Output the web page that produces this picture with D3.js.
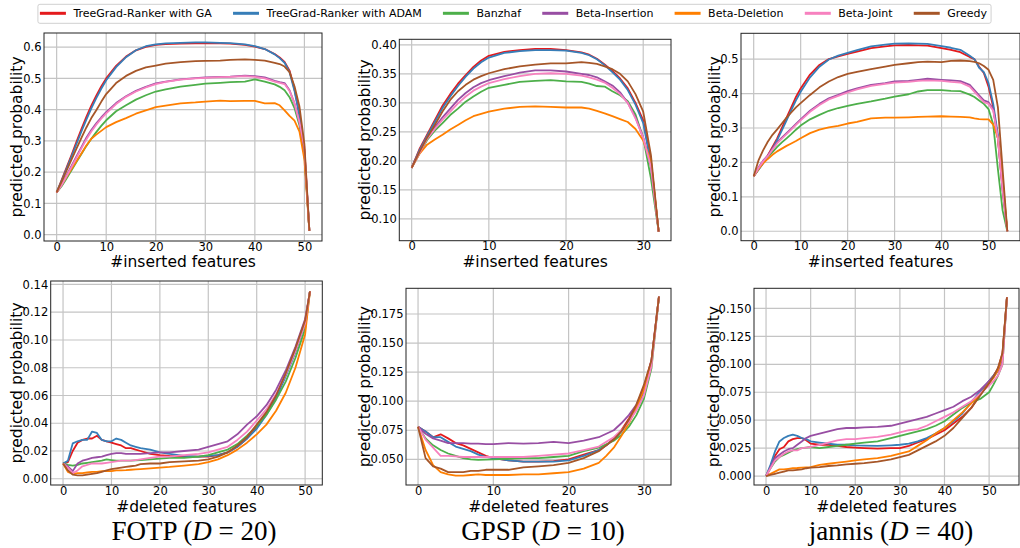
<!DOCTYPE html>
<html><head><meta charset="utf-8">
<script src="https://cdn.jsdelivr.net/npm/d3@7"></script>
<style>body{margin:0;background:#fff}svg{display:block}</style>
</head><body>
<script>
// ---------- data ----------
const seriesNames = ["TreeGrad-Ranker with GA","TreeGrad-Ranker with ADAM","Banzhaf","Beta-Insertion","Beta-Deletion","Beta-Joint","Greedy"];
const seriesColors = ["#e41a1c","#377eb8","#4daf4a","#984ea3","#ff7f00","#f781bf","#a65628"];
const datasetTitles = ["FOTP","GPSP","jannis"];
const datasetD = ["20","10","40"];

// FOTP insertion
const fotpInsX = [0,1,2,3,4,5,6,7,8,9,10,12,14,16,18,20,22,25,28,30,33,35,38,40,42,44,45,46,47,48,49,50,51];
const fotpInsGA   = [0.135,0.175,0.215,0.255,0.297,0.338,0.377,0.413,0.445,0.474,0.500,0.540,0.570,0.590,0.601,0.607,0.610,0.611,0.612,0.612,0.612,0.611,0.607,0.602,0.594,0.578,0.567,0.553,0.525,0.465,0.385,0.27,0.012];
const fotpInsADAM = [0.135,0.172,0.211,0.25,0.29,0.33,0.368,0.404,0.437,0.467,0.494,0.536,0.568,0.590,0.603,0.609,0.612,0.614,0.615,0.615,0.614,0.613,0.609,0.603,0.594,0.577,0.565,0.55,0.52,0.46,0.38,0.26,0.012];
const fotpInsBanz = [0.135,0.155,0.18,0.206,0.232,0.258,0.284,0.307,0.328,0.348,0.366,0.395,0.414,0.432,0.446,0.458,0.465,0.474,0.479,0.483,0.486,0.488,0.49,0.497,0.49,0.481,0.473,0.462,0.44,0.405,0.35,0.26,0.012];
const fotpInsBIns = [0.135,0.16,0.19,0.22,0.25,0.28,0.31,0.335,0.356,0.375,0.392,0.421,0.443,0.46,0.473,0.484,0.49,0.497,0.501,0.503,0.505,0.506,0.509,0.507,0.503,0.492,0.488,0.485,0.462,0.42,0.36,0.27,0.012];
const fotpInsBDel = [0.135,0.16,0.185,0.21,0.235,0.26,0.285,0.307,0.32,0.332,0.344,0.36,0.373,0.387,0.398,0.408,0.413,0.42,0.423,0.426,0.429,0.427,0.428,0.428,0.42,0.421,0.414,0.398,0.38,0.365,0.33,0.24,0.012];
const fotpInsBJnt = [0.135,0.158,0.187,0.216,0.246,0.276,0.305,0.33,0.352,0.371,0.388,0.418,0.441,0.458,0.471,0.482,0.489,0.496,0.5,0.502,0.504,0.505,0.507,0.505,0.5,0.49,0.486,0.482,0.46,0.42,0.36,0.28,0.012];
const fotpInsGrdy = [0.135,0.17,0.205,0.24,0.275,0.31,0.343,0.373,0.398,0.425,0.45,0.485,0.508,0.524,0.535,0.541,0.547,0.552,0.555,0.556,0.557,0.559,0.561,0.559,0.557,0.55,0.546,0.538,0.52,0.475,0.41,0.29,0.012];

// GPSP insertion
const gpspInsX = [0,1,2,3,4,5,6,7,8,9,10,12,14,16,18,20,22,23,24,25,26,27,28,29,30,31,32];
const gpspInsGA   = [0.188,0.22,0.245,0.27,0.295,0.315,0.333,0.348,0.362,0.373,0.381,0.388,0.391,0.393,0.393,0.391,0.387,0.383,0.376,0.366,0.355,0.342,0.325,0.3,0.27,0.2,0.078];
const gpspInsADAM = [0.188,0.218,0.243,0.267,0.291,0.311,0.329,0.345,0.359,0.37,0.378,0.386,0.389,0.391,0.391,0.39,0.386,0.382,0.375,0.365,0.353,0.34,0.322,0.297,0.265,0.195,0.078];
const gpspInsBanz = [0.188,0.212,0.236,0.252,0.265,0.279,0.29,0.302,0.311,0.319,0.326,0.331,0.336,0.338,0.339,0.337,0.336,0.333,0.329,0.328,0.32,0.313,0.303,0.28,0.24,0.17,0.078];
const gpspInsBIns = [0.188,0.215,0.24,0.258,0.275,0.29,0.305,0.317,0.327,0.334,0.339,0.346,0.352,0.356,0.356,0.354,0.35,0.348,0.344,0.337,0.33,0.318,0.30,0.275,0.24,0.19,0.078];
const gpspInsBDel = [0.188,0.212,0.228,0.237,0.245,0.254,0.262,0.27,0.277,0.281,0.285,0.29,0.293,0.294,0.293,0.292,0.292,0.29,0.286,0.282,0.277,0.272,0.267,0.255,0.235,0.2,0.078];
const gpspInsBJnt = [0.188,0.213,0.238,0.255,0.271,0.285,0.299,0.311,0.321,0.328,0.334,0.341,0.346,0.350,0.351,0.35,0.347,0.344,0.34,0.335,0.326,0.315,0.30,0.273,0.24,0.19,0.078];
const gpspInsGrdy = [0.188,0.215,0.24,0.262,0.285,0.305,0.32,0.331,0.34,0.346,0.351,0.358,0.363,0.366,0.368,0.368,0.37,0.369,0.367,0.363,0.358,0.35,0.337,0.315,0.285,0.21,0.078];

// jannis insertion
const jannisInsX = [0,1,2,3,4,5,6,7,8,9,10,12,14,16,18,20,22,25,28,30,33,35,37,40,42,44,46,47,48,49,50,51,52,53,54];
const jannisInsGA   = [0.16,0.18,0.2,0.22,0.245,0.27,0.3,0.33,0.36,0.39,0.415,0.455,0.483,0.5,0.508,0.515,0.522,0.532,0.537,0.54,0.541,0.54,0.539,0.532,0.527,0.52,0.506,0.5,0.478,0.46,0.42,0.36,0.27,0.12,0.0];
const jannisInsADAM = [0.16,0.178,0.197,0.217,0.24,0.265,0.293,0.322,0.352,0.38,0.405,0.447,0.478,0.499,0.51,0.518,0.526,0.537,0.542,0.545,0.546,0.545,0.544,0.538,0.533,0.527,0.51,0.5,0.475,0.462,0.43,0.37,0.28,0.14,0.0];
const jannisInsBanz = [0.16,0.18,0.2,0.215,0.23,0.245,0.258,0.27,0.282,0.295,0.307,0.325,0.338,0.35,0.358,0.364,0.37,0.377,0.385,0.391,0.398,0.406,0.41,0.41,0.408,0.407,0.397,0.39,0.38,0.37,0.355,0.31,0.18,0.06,0.0];
const jannisInsBIns = [0.16,0.185,0.205,0.22,0.24,0.258,0.272,0.285,0.298,0.312,0.325,0.35,0.37,0.386,0.396,0.407,0.415,0.425,0.43,0.435,0.437,0.44,0.443,0.44,0.438,0.436,0.425,0.41,0.395,0.38,0.375,0.355,0.27,0.12,0.0];
const jannisInsBDel = [0.16,0.18,0.197,0.21,0.222,0.232,0.24,0.248,0.255,0.262,0.27,0.285,0.295,0.302,0.306,0.313,0.318,0.328,0.33,0.33,0.331,0.332,0.333,0.334,0.333,0.332,0.331,0.328,0.326,0.325,0.325,0.31,0.27,0.15,0.0];
const jannisInsBJnt = [0.16,0.183,0.203,0.218,0.237,0.255,0.269,0.282,0.295,0.309,0.322,0.347,0.367,0.383,0.393,0.403,0.412,0.422,0.428,0.432,0.434,0.437,0.438,0.437,0.434,0.432,0.42,0.405,0.39,0.375,0.37,0.35,0.27,0.12,0.0];
const jannisInsGrdy = [0.16,0.205,0.235,0.26,0.28,0.296,0.313,0.33,0.345,0.36,0.372,0.396,0.418,0.435,0.448,0.457,0.463,0.471,0.478,0.483,0.488,0.491,0.493,0.491,0.495,0.496,0.494,0.492,0.488,0.48,0.469,0.44,0.36,0.18,0.0];

// FOTP deletion
const fotpDelX = [0,1,2,3,4,5,6,7,8,9,10,11,12,13,14,15,16,18,20,22,25,28,30,32,34,36,38,40,42,44,46,48,50,51];
const fotpDelGA   = [0.011,0.012,0.02,0.026,0.028,0.029,0.029,0.031,0.028,0.027,0.026,0.025,0.024,0.022,0.022,0.021,0.02,0.018,0.017,0.0165,0.016,0.016,0.016,0.017,0.019,0.023,0.029,0.037,0.047,0.059,0.075,0.092,0.113,0.135];
const fotpDelADAM = [0.011,0.013,0.0255,0.027,0.028,0.028,0.034,0.033,0.028,0.027,0.027,0.029,0.028,0.026,0.024,0.023,0.022,0.021,0.019,0.018,0.0165,0.016,0.0165,0.017,0.019,0.023,0.029,0.036,0.046,0.058,0.074,0.091,0.112,0.135];
const fotpDelBanz = [0.011,0.01,0.0095,0.01,0.011,0.0115,0.012,0.0125,0.013,0.014,0.0135,0.013,0.013,0.013,0.013,0.0133,0.0135,0.014,0.0145,0.015,0.015,0.016,0.017,0.019,0.021,0.025,0.031,0.038,0.046,0.057,0.07,0.087,0.108,0.135];
const fotpDelBIns = [0.011,0.009,0.0055,0.011,0.013,0.014,0.015,0.0155,0.016,0.017,0.018,0.0185,0.0185,0.018,0.018,0.018,0.018,0.0185,0.019,0.019,0.02,0.021,0.023,0.025,0.027,0.032,0.039,0.045,0.053,0.064,0.078,0.095,0.115,0.135];
const fotpDelBDel = [0.011,0.005,0.0035,0.004,0.004,0.0045,0.005,0.005,0.0055,0.0055,0.0055,0.006,0.006,0.0062,0.0065,0.0068,0.007,0.0075,0.008,0.0085,0.0095,0.0105,0.012,0.014,0.017,0.021,0.026,0.032,0.039,0.049,0.062,0.08,0.104,0.135];
const fotpDelBJnt = [0.011,0.008,0.004,0.006,0.009,0.01,0.011,0.011,0.011,0.0115,0.012,0.0125,0.013,0.013,0.013,0.0135,0.014,0.015,0.016,0.016,0.017,0.018,0.019,0.021,0.023,0.028,0.034,0.042,0.05,0.061,0.075,0.092,0.112,0.135];
const fotpDelGrdy = [0.011,0.006,0.003,0.0025,0.0025,0.003,0.0035,0.004,0.005,0.006,0.007,0.0075,0.008,0.0085,0.009,0.0095,0.0105,0.011,0.011,0.012,0.0125,0.013,0.014,0.016,0.019,0.024,0.03,0.039,0.048,0.06,0.076,0.094,0.114,0.135];

// GPSP deletion
const gpspDelX = [0,1,2,3,4,5,6,7,8,9,10,12,14,16,18,20,22,24,25,26,27,28,29,30,31,32];
const gpspDelGA   = [0.078,0.074,0.069,0.0715,0.068,0.064,0.062,0.059,0.056,0.053,0.051,0.049,0.048,0.048,0.0485,0.05,0.054,0.058,0.062,0.068,0.075,0.085,0.096,0.112,0.135,0.19];
const gpspDelADAM = [0.078,0.074,0.069,0.069,0.065,0.061,0.059,0.057,0.054,0.052,0.051,0.049,0.048,0.048,0.048,0.049,0.053,0.058,0.062,0.067,0.074,0.083,0.094,0.108,0.133,0.19];
const gpspDelBanz = [0.078,0.068,0.062,0.058,0.055,0.053,0.051,0.05,0.0495,0.0497,0.05,0.0505,0.051,0.051,0.052,0.053,0.057,0.06,0.063,0.066,0.071,0.078,0.088,0.102,0.128,0.19];
const gpspDelBIns = [0.078,0.072,0.068,0.066,0.064,0.064,0.064,0.0635,0.0635,0.063,0.063,0.064,0.0635,0.064,0.065,0.064,0.066,0.069,0.072,0.075,0.081,0.088,0.097,0.11,0.135,0.19];
const gpspDelBDel = [0.078,0.058,0.045,0.039,0.037,0.036,0.036,0.0365,0.037,0.0365,0.0365,0.0365,0.037,0.037,0.038,0.039,0.042,0.047,0.053,0.06,0.07,0.081,0.094,0.11,0.133,0.19];
const gpspDelBJnt = [0.078,0.067,0.06,0.053,0.053,0.0525,0.052,0.052,0.052,0.052,0.052,0.052,0.052,0.053,0.054,0.055,0.058,0.061,0.065,0.069,0.075,0.082,0.092,0.105,0.13,0.19];
const gpspDelGrdy = [0.078,0.051,0.044,0.042,0.039,0.039,0.039,0.04,0.04,0.041,0.041,0.041,0.043,0.044,0.045,0.047,0.051,0.057,0.062,0.067,0.074,0.084,0.097,0.114,0.135,0.19];

// jannis deletion
const jannisDelX = [0,1,2,3,4,5,6,7,8,9,10,12,14,16,18,20,22,25,28,30,32,34,36,38,40,42,44,46,48,50,51,52,53,54];
const jannisDelGA   = [0,0.008,0.018,0.024,0.026,0.031,0.033,0.034,0.034,0.032,0.029,0.028,0.028,0.027,0.026,0.0255,0.025,0.0245,0.025,0.025,0.027,0.03,0.033,0.037,0.041,0.047,0.053,0.061,0.073,0.085,0.09,0.096,0.11,0.16];
const jannisDelADAM = [0,0.01,0.022,0.031,0.034,0.036,0.037,0.036,0.034,0.033,0.031,0.03,0.029,0.028,0.028,0.0275,0.0272,0.027,0.0275,0.028,0.029,0.031,0.034,0.038,0.043,0.049,0.056,0.066,0.076,0.085,0.09,0.095,0.108,0.16];
const jannisDelBanz = [0,0.007,0.013,0.017,0.019,0.021,0.023,0.024,0.025,0.0255,0.026,0.025,0.026,0.027,0.028,0.029,0.03,0.031,0.034,0.036,0.038,0.04,0.042,0.045,0.049,0.055,0.061,0.066,0.069,0.075,0.082,0.09,0.1,0.16];
const jannisDelBIns = [0,0.008,0.016,0.019,0.022,0.024,0.025,0.028,0.031,0.034,0.036,0.038,0.04,0.042,0.043,0.043,0.0435,0.044,0.045,0.047,0.049,0.051,0.053,0.056,0.059,0.062,0.067,0.071,0.077,0.085,0.089,0.094,0.105,0.16];
const jannisDelBDel = [0,0.002,0.004,0.006,0.006,0.0065,0.007,0.0072,0.0075,0.0078,0.008,0.01,0.011,0.012,0.013,0.014,0.015,0.016,0.018,0.02,0.022,0.027,0.032,0.038,0.043,0.05,0.057,0.065,0.073,0.083,0.088,0.095,0.108,0.16];
const jannisDelBJnt = [0,0.007,0.014,0.017,0.02,0.022,0.023,0.023,0.025,0.0255,0.026,0.028,0.03,0.032,0.033,0.033,0.034,0.035,0.037,0.039,0.041,0.042,0.045,0.049,0.053,0.057,0.062,0.067,0.074,0.081,0.085,0.09,0.1,0.16];
const jannisDelGrdy = [0,0.001,0.002,0.003,0.004,0.005,0.005,0.0055,0.006,0.007,0.0075,0.008,0.009,0.0095,0.0105,0.011,0.0115,0.013,0.015,0.017,0.019,0.023,0.027,0.031,0.036,0.043,0.052,0.061,0.072,0.083,0.089,0.097,0.11,0.16];

// tick values
const xTicks50 = [0,10,20,30,40,50];
const xTicks30 = [0,10,20,30];
const fotpInsYTicks = [0.0,0.1,0.2,0.3,0.4,0.5,0.6];
const gpspInsYTicks = [0.10,0.15,0.20,0.25,0.30,0.35,0.40];
const jannisInsYTicks = [0.0,0.1,0.2,0.3,0.4,0.5];
const fotpDelYTicks = [0.00,0.02,0.04,0.06,0.08,0.10,0.12,0.14];
const gpspDelYTicks = [0.050,0.075,0.100,0.125,0.150,0.175];
const jannisDelYTicks = [0.000,0.025,0.050,0.075,0.100,0.125,0.150];

// ---------- layout ----------
const W = 1020, H = 548;
const panels = [
  {xs: fotpInsX, ys: [fotpInsGA,fotpInsADAM,fotpInsBanz,fotpInsBIns,fotpInsBDel,fotpInsBJnt,fotpInsGrdy],
   xt: xTicks50, yt: fotpInsYTicks, fmt: d3.format(".1f"), box: [44,322,33,241], xd: [-2.55,53.55], yd: [-0.0203,0.6453],
   xlab: "#inserted features", xlabY: 266.5, ylabX: 22},
  {xs: gpspInsX, ys: [gpspInsGA,gpspInsADAM,gpspInsBanz,gpspInsBIns,gpspInsBDel,gpspInsBJnt,gpspInsGrdy],
   xt: xTicks30, yt: gpspInsYTicks, fmt: d3.format(".2f"), box: [399.3,671,39.3,240.7], xd: [-1.6,33.6], yd: [0.0625,0.4095],
   xlab: "#inserted features", xlabY: 266.5, ylabX: 370},
  {xs: jannisInsX, ys: [jannisInsGA,jannisInsADAM,jannisInsBanz,jannisInsBIns,jannisInsBDel,jannisInsBJnt,jannisInsGrdy],
   xt: xTicks50, yt: jannisInsYTicks, fmt: d3.format(".1f"), box: [741,1020,33.3,240.7], xd: [-2.7,56.7], yd: [-0.0274,0.575],
   xlab: "#inserted features", xlabY: 266.5, ylabX: 720},
  {xs: fotpDelX, ys: [fotpDelGA,fotpDelADAM,fotpDelBanz,fotpDelBIns,fotpDelBDel,fotpDelBJnt,fotpDelGrdy],
   xt: xTicks50, yt: fotpDelYTicks, fmt: d3.format(".2f"), box: [50.7,322.3,281,485], xd: [-2.55,53.55], yd: [-0.0045,0.1425],
   xlab: "#deleted features", xlabY: 511.5, ylabX: 22},
  {xs: gpspDelX, ys: [gpspDelGA,gpspDelADAM,gpspDelBanz,gpspDelBIns,gpspDelBDel,gpspDelBJnt,gpspDelGrdy],
   xt: xTicks30, yt: gpspDelYTicks, fmt: d3.format(".3f"), box: [406,671,288.3,485], xd: [-1.6,33.6], yd: [0.0279,0.1971],
   xlab: "#deleted features", xlabY: 511.5, ylabX: 370},
  {xs: jannisDelX, ys: [jannisDelGA,jannisDelADAM,jannisDelBanz,jannisDelBIns,jannisDelBDel,jannisDelBJnt,jannisDelGrdy],
   xt: xTicks50, yt: jannisDelYTicks, fmt: d3.format(".3f"), box: [754,1019,288.3,485], xd: [-2.7,56.7], yd: [-0.008,0.168],
   xlab: "#deleted features", xlabY: 511.5, ylabX: 719}
];
const titleX = [194, 543, 891];

const svg = d3.select("body").append("svg").attr("width", W).attr("height", H)
  .attr("font-family", "DejaVu Sans, sans-serif");
svg.append("rect").attr("width", W).attr("height", H).attr("fill", "#fff");

panels.forEach((p, pi) => {
  const [x0, x1, y0, y1] = p.box;
  const x = d3.scaleLinear().domain(p.xd).range([x0, x1]);
  const y = d3.scaleLinear().domain(p.yd).range([y1, y0]);
  const g = svg.append("g");
  const clipId = "clip" + pi;
  g.append("clipPath").attr("id", clipId).append("rect")
    .attr("x", x0).attr("y", y0).attr("width", x1 - x0).attr("height", y1 - y0);

  // grid
  g.append("g").selectAll("line").data(p.xt).join("line")
    .attr("x1", d => x(d)).attr("x2", d => x(d)).attr("y1", y0).attr("y2", y1)
    .attr("stroke", "#c4c4c4").attr("stroke-width", 1.2);
  g.append("g").selectAll("line").data(p.yt).join("line")
    .attr("x1", x0).attr("x2", x1).attr("y1", d => y(d)).attr("y2", d => y(d))
    .attr("stroke", "#c4c4c4").attr("stroke-width", 1.2);

  // axes (labels only)
  const ax = g.append("g").attr("transform", `translate(0,${y1})`)
    .call(d3.axisBottom(x).tickValues(p.xt).tickSize(0).tickPadding(1.5).tickFormat(d3.format("d")));
  ax.select(".domain").remove();
  ax.selectAll("text").attr("font-size", 11.5).attr("font-family", "DejaVu Sans").attr("fill", "#000").attr("dy", "0.71em");
  const ay = g.append("g").attr("transform", `translate(${x0},0)`)
    .call(d3.axisLeft(y).tickValues(p.yt).tickSize(0).tickPadding(2.5).tickFormat(p.fmt));
  ay.select(".domain").remove();
  ay.selectAll("text").attr("font-size", 11.5).attr("font-family", "DejaVu Sans").attr("fill", "#000");

  // lines
  const line = d3.line().x((d, i) => x(p.xs[i])).y(d => y(d));
  g.append("g").attr("clip-path", `url(#${clipId})`).selectAll("path").data(p.ys).join("path")
    .attr("d", d => line(d)).attr("fill", "none")
    .attr("stroke", (d, i) => seriesColors[i]).attr("stroke-width", 1.8)
    .attr("stroke-linejoin", "round");

  // frame
  g.append("rect").attr("x", x0).attr("y", y0).attr("width", x1 - x0).attr("height", y1 - y0)
    .attr("fill", "none").attr("stroke", "#222").attr("stroke-width", 1);

  // axis labels
  g.append("text").attr("x", (x0 + x1) / 2).attr("y", p.xlabY).attr("text-anchor", "middle")
    .attr("font-size", 15.5).text(p.xlab);
  g.append("text").attr("transform", `translate(${p.ylabX},${(y0 + y1) / 2}) rotate(-90)`)
    .attr("text-anchor", "middle").attr("font-size", 15.5).text("predicted probability");
});

// titles
datasetTitles.forEach((t, i) => {
  const tx = svg.append("text").attr("x", titleX[i]).attr("y", 540).attr("text-anchor", "middle")
    .attr("font-family", "Liberation Serif, serif").attr("font-size", 27).attr("xml:space", "preserve");
  tx.append("tspan").text(t + " (");
  tx.append("tspan").attr("font-style", "italic").text("D");
  tx.append("tspan").text(" = " + datasetD[i] + ")");
});

// legend
const leg = svg.append("g");
const legBox = leg.append("rect");
let cx = 0;
seriesNames.forEach((n, i) => {
  const it = leg.append("g");
  it.append("line").attr("x1", 0).attr("x2", 26).attr("y1", 0).attr("y2", 0)
    .attr("stroke", seriesColors[i]).attr("stroke-width", 3);
  const t = it.append("text").attr("x", 33.5).attr("y", 4).attr("font-size", 11).text(n);
  const w = t.node().getComputedTextLength();
  it.attr("transform", `translate(${cx},13.3)`);
  cx += 33.5 + w + 21.2;
});
const totalW = cx - 21.2;
const startX = 513.5 - totalW / 2;
leg.attr("transform", `translate(${startX},0)`);
legBox.attr("x", -2).attr("y", 4.3).attr("width", totalW + 6).attr("height", 19)
  .attr("rx", 2).attr("fill", "#fff").attr("stroke", "#d0d0d0").attr("stroke-width", 1);
</script>
</body></html>
